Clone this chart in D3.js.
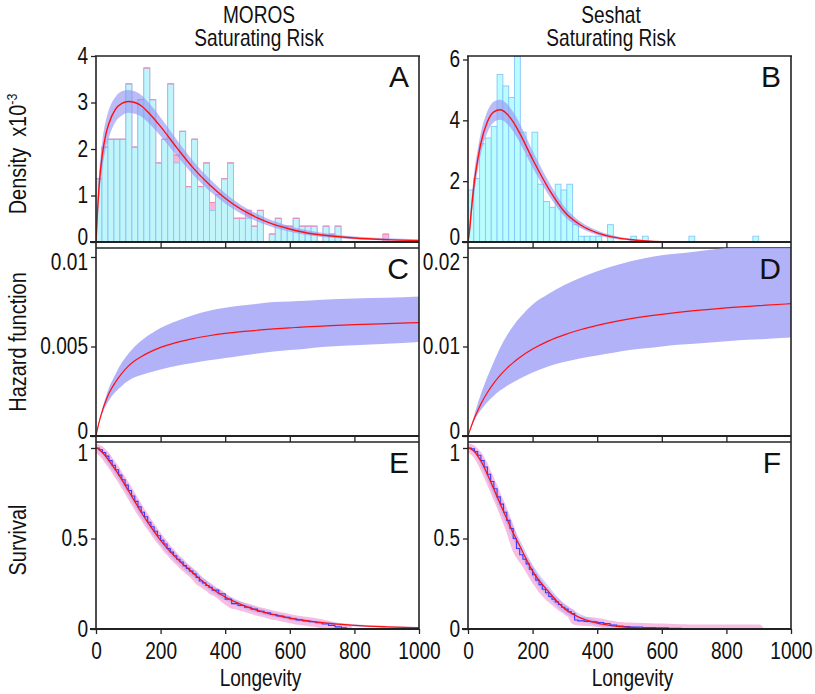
<!DOCTYPE html>
<html>
<head>
<meta charset="utf-8">
<script src="https://cdn.jsdelivr.net/npm/d3@7"></script>
<style>
  body { margin: 0; background: #fff; }
  text { font-family: "Liberation Sans", Arial, sans-serif; fill: #111; }
</style>
</head>
<body>
<svg id="chart" width="815" height="694"></svg>
<script>
// ---- data ----
// histograms: 50 bins over each data set's range, density in units of 1e-3
const morosBinWidth = 18.5;
const seshatBinWidth = 18;
const morosHist = [1.36, 2.04, 2.21, 2.21, 2.21, 3.40, 2.04, 3.06, 3.74, 3.06,
                   1.70, 2.21, 3.40, 1.70, 2.38, 1.19, 2.21, 1.19, 1.70, 0.68,
                   1.02, 1.36, 1.70, 0.51, 0.51, 0.51, 0.34, 0.68, 0.00, 0.17,
                   0.51, 0.34, 0.34, 0.51, 0.34, 0.34, 0.34, 0.00, 0.34, 0.17,
                   0.34, 0.00, 0.00, 0.00, 0.00, 0.00, 0.00, 0.00, 0.00, 0.00];
const morosHistPink = [1.36, 2.04, 2.21, 2.21, 2.21, 3.40, 2.04, 3.06, 3.74, 3.06,
                   1.70, 2.21, 3.40, 1.87, 2.38, 1.19, 2.21, 1.19, 1.70, 0.85,
                   1.02, 1.36, 1.70, 0.51, 0.51, 0.68, 0.34, 0.68, 0.00, 0.17,
                   0.51, 0.34, 0.34, 0.51, 0.34, 0.34, 0.34, 0.00, 0.34, 0.17,
                   0.34, 0.00, 0.00, 0.00, 0.00, 0.00, 0.00, 0.00, 0.17, 0.00];
const seshatHist = [1.71, 2.09, 3.23, 3.42, 3.80, 5.51, 5.13, 4.75, 6.10, 3.61,
                    2.85, 3.61, 1.90, 1.33, 1.14, 1.90, 1.71, 1.90, 0.57, 0.19,
                    0.19, 0.19, 0.19, 0.00, 0.57, 0.00, 0.00, 0.00, 0.19, 0.00,
                    0.19, 0.00, 0.00, 0.00, 0.00, 0.00, 0.00, 0.00, 0.19, 0.00,
                    0.00, 0.00, 0.00, 0.00, 0.00, 0.00, 0.00, 0.00, 0.00, 0.19];

// model curves sampled at these longevities
const gridT = [0, 5, 10, 20, 30, 40, 60, 80, 100, 120, 140, 160, 200, 250, 300,
               350, 400, 450, 500, 550, 600, 650, 700, 800, 900, 1000];

const morosDens   = [0, 0.70, 1.25, 1.90, 2.30, 2.55, 2.85, 2.98, 3.02, 3.00, 2.93, 2.80, 2.48, 2.03, 1.60,
                     1.24, 0.94, 0.70, 0.52, 0.38, 0.28, 0.20, 0.15, 0.085, 0.05, 0.03];
const morosDensHi = [0, 0.90, 1.50, 2.20, 2.60, 2.85, 3.12, 3.24, 3.27, 3.24, 3.16, 3.02, 2.68, 2.20, 1.75,
                     1.37, 1.05, 0.79, 0.60, 0.45, 0.34, 0.26, 0.20, 0.12, 0.08, 0.06];
const morosDensLo = [0, 0.50, 1.00, 1.60, 2.00, 2.25, 2.58, 2.72, 2.78, 2.76, 2.70, 2.58, 2.28, 1.86, 1.45,
                     1.11, 0.83, 0.61, 0.44, 0.31, 0.22, 0.15, 0.11, 0.06, 0.03, 0.015];

const seshatDens   = [0, 0.40, 1.00, 2.00, 2.70, 3.25, 3.95, 4.28, 4.35, 4.22, 3.95, 3.58, 2.72, 1.75, 0.98,
                      0.55, 0.30, 0.16, 0.08, 0.035, 0.01, 0.004, 0, 0, 0, 0];
const seshatDensHi = [0, 0.55, 1.30, 2.35, 3.05, 3.60, 4.30, 4.62, 4.68, 4.55, 4.27, 3.90, 3.00, 1.98, 1.14,
                      0.66, 0.38, 0.21, 0.11, 0.055, 0.02, 0.01, 0.003, 0, 0, 0];
const seshatDensLo = [0, 0.25, 0.75, 1.65, 2.35, 2.90, 3.60, 3.94, 4.02, 3.90, 3.63, 3.27, 2.45, 1.54, 0.83,
                      0.45, 0.23, 0.11, 0.05, 0.02, 0.005, 0, 0, 0, 0, 0];

const morosHaz   = [0, 0.00043, 0.0008, 0.00143, 0.00194, 0.00237, 0.0030, 0.0035, 0.0039, 0.0042, 0.00443, 0.00463,
                    0.00495, 0.00523, 0.00544, 0.0056, 0.00573, 0.00583, 0.00591, 0.00598, 0.00604, 0.0061, 0.00614,
                    0.00622, 0.00628, 0.00633];
const morosHazHi = [0, 0.00046, 0.00086, 0.00157, 0.00217, 0.00268, 0.00345, 0.0041, 0.0046, 0.0050, 0.00532, 0.0056,
                    0.00604, 0.00643, 0.00675, 0.0070, 0.00716, 0.00729, 0.00739, 0.00748, 0.00752, 0.00756, 0.00761,
                    0.00768, 0.00772, 0.00779];
const morosHazLo = [0, 0.0004, 0.00072, 0.00126, 0.00167, 0.00199, 0.00246, 0.0028, 0.00308, 0.00328, 0.00341, 0.00352,
                    0.00371, 0.00392, 0.00408, 0.00423, 0.00436, 0.00449, 0.00461, 0.00472, 0.0048, 0.00488, 0.00497,
                    0.00507, 0.00515, 0.00525];

const seshatHaz   = [0, 0.00055, 0.00106, 0.0020, 0.00283, 0.00358, 0.00486, 0.00591, 0.0068, 0.00756, 0.0082, 0.00877,
                     0.00971, 0.01063, 0.01133, 0.0119, 0.01236, 0.01275, 0.01308, 0.01336, 0.0136, 0.01381, 0.0140,
                     0.01432, 0.01457, 0.01478];
const seshatHazHi = [0, 0.0006, 0.0012, 0.0024, 0.0036, 0.0047, 0.0066, 0.0083, 0.0099, 0.0112, 0.0123, 0.0132,
                     0.0147, 0.0159, 0.0169, 0.0177, 0.0184, 0.0190, 0.0195, 0.0199, 0.0202, 0.0204, 0.0206,
                     0.0210, 0.0213, 0.0216];
const seshatHazLo = [0, 0.0005, 0.00095, 0.00175, 0.0024, 0.0029, 0.0038, 0.0045, 0.0051, 0.0056, 0.0060, 0.0064,
                     0.0071, 0.0078, 0.0083, 0.0087, 0.0090, 0.0093, 0.0096, 0.0098, 0.0100, 0.0102, 0.0103,
                     0.0106, 0.0108, 0.0110];

const morosSurv   = [1, 0.997, 0.99, 0.975, 0.955, 0.93, 0.88, 0.825, 0.765, 0.705, 0.645, 0.59, 0.49, 0.39, 0.31,
                     0.235, 0.177, 0.135, 0.103, 0.079, 0.06, 0.046, 0.035, 0.02, 0.012, 0.007];
const morosSurvHi = [1, 1, 1, 0.99, 0.975, 0.952, 0.903, 0.85, 0.79, 0.73, 0.67, 0.614, 0.513, 0.412, 0.331,
                     0.255, 0.195, 0.151, 0.117, 0.091, 0.071, 0.055, 0.043, 0.026, 0.017, 0.011];
const morosSurvLo = [1, 0.994, 0.98, 0.96, 0.935, 0.908, 0.857, 0.8, 0.74, 0.68, 0.62, 0.566, 0.467, 0.368, 0.289,
                     0.215, 0.159, 0.119, 0.089, 0.067, 0.049, 0.037, 0.027, 0.014, 0.007, 0.003];

const seshatSurv   = [1, 0.998, 0.994, 0.98, 0.957, 0.928, 0.855, 0.773, 0.69, 0.61, 0.53, 0.46, 0.32, 0.205, 0.11,
                      0.06, 0.032, 0.017, 0.009, 0.004, 0.002, 0.001, 0, 0, 0, 0];
const seshatSurvHi = [1, 1, 1, 0.99, 0.975, 0.952, 0.885, 0.805, 0.725, 0.645, 0.565, 0.495, 0.355, 0.235, 0.135,
                      0.08, 0.047, 0.028, 0.016, 0.008, 0.004, 0.002, 0.001, 0, 0, 0];
const seshatSurvLo = [1, 0.996, 0.988, 0.97, 0.94, 0.905, 0.825, 0.74, 0.655, 0.575, 0.495, 0.425, 0.285, 0.175, 0.088,
                      0.044, 0.02, 0.009, 0.004, 0.001, 0, 0, 0, 0, 0, 0];

// Kaplan-Meier steps [longevity, survival]
const morosKM = [[0, 1], [10, 0.99], [20, 0.975], [30, 0.955], [40, 0.93], [50, 0.905], [60, 0.88], [70, 0.85],
                 [80, 0.825], [90, 0.795], [100, 0.765], [110, 0.735], [120, 0.705], [130, 0.675], [140, 0.645],
                 [150, 0.62], [160, 0.59], [170, 0.565], [180, 0.54], [190, 0.515], [200, 0.49], [210, 0.47],
                 [220, 0.445], [230, 0.425], [240, 0.405], [250, 0.385], [260, 0.37], [270, 0.35], [280, 0.335],
                 [290, 0.32], [300, 0.305], [310, 0.285], [320, 0.265], [330, 0.255], [340, 0.24], [350, 0.23],
                 [360, 0.215], [380, 0.195], [400, 0.165], [420, 0.14], [440, 0.13], [460, 0.12], [480, 0.11],
                 [500, 0.098], [520, 0.09], [540, 0.08], [560, 0.072], [580, 0.065], [600, 0.057], [620, 0.05],
                 [640, 0.045], [660, 0.04], [680, 0.035], [700, 0.028], [720, 0.02], [740, 0.012], [760, 0.006],
                 [775, 0]];
const seshatKM = [[0, 1], [10, 0.995], [20, 0.98], [30, 0.96], [40, 0.93], [50, 0.895], [60, 0.855], [70, 0.815],
                  [80, 0.775], [90, 0.73], [100, 0.69], [110, 0.645], [120, 0.60], [130, 0.555], [140, 0.50],
                  [150, 0.445], [160, 0.41], [170, 0.385], [180, 0.36], [190, 0.33], [200, 0.30], [210, 0.27],
                  [220, 0.245], [230, 0.22], [240, 0.20], [250, 0.18], [260, 0.165], [270, 0.15], [280, 0.135],
                  [290, 0.12], [300, 0.11], [310, 0.095], [320, 0.085], [330, 0.05], [340, 0.045], [360, 0.042],
                  [380, 0.04], [400, 0.036], [420, 0.03], [440, 0.022], [460, 0.016], [480, 0.013], [500, 0.011],
                  [540, 0.008], [580, 0.006], [620, 0.004], [660, 0.002], [697, 0]];
const morosKMBandEnd = 780;
const seshatKMBandEnd = 900;

const xTicks = [0, 200, 400, 600, 800, 1000];

// ---- layout ----
const svg = d3.select('#chart');
const cols = [{x0: 96, x1: 419}, {x0: 468, x1: 791}];
const rows = [{top: 56, zero: 242, bottom: 248},
              {top: 248, zero: 436, bottom: 442},
              {top: 442, zero: 629, bottom: 629}];
const squeeze = 0.83;   // the figure's type is narrow

const cyanStroke = '#86c6fb';
const bandFill = 'rgba(150,150,245,0.65)';
const red = '#ff1010';

// narrow a text horizontally round its own anchor point
function condense(sel, sx) {
    sel.each(function() {
        const t = d3.select(this);
        const x = +t.attr('x') || 0, y = +t.attr('y') || 0;
        t.attr('transform', `translate(${x},${y}) scale(${sx},1) translate(${-x},${-y})`);
    });
}

function panel(col, row, yDomain, yRangeTop, yTicks, letter, id) {
    const c = cols[col], r = rows[row];
    const x = d3.scaleLinear().domain([0, 1000]).range([c.x0, c.x1]);
    const y = d3.scaleLinear().domain(yDomain).range([r.zero, yRangeTop]);
    const g = svg.append('g');
    svg.append('clipPath').attr('id', id)
        .append('rect').attr('x', c.x0).attr('y', r.top).attr('width', c.x1 - c.x0).attr('height', r.zero - r.top);
    const plot = g.append('g').attr('clip-path', `url(#${id})`);
    const frame = g.append('g');
    return {x, y, c, r, plot, frame, draw() {
        // y axis, the end labels pulled away from the neighbouring panels
        const top = yTicks[yTicks.length - 1];
        frame.append('g')
            .attr('transform', `translate(${c.x0},0)`)
            .call(d3.axisLeft(y).tickValues(yTicks).tickSize(5).tickPadding(3).tickFormat(d => String(d)))
            .call(a => a.select('.domain').remove())
            .call(a => a.selectAll('line').attr('stroke', '#222').attr('stroke-width', 1.3))
            .call(a => a.selectAll('text').style('font-size', '23px').attr('fill', '#111')
                .attr('y', d => (d === 0 && row < 2 ? -5 : (d === top && row > 0 ? 5 : 0)))
                .call(condense, squeeze));
        const ln = (x1, y1, x2, y2, w) => frame.append('line')
            .attr('x1', x1).attr('y1', y1).attr('x2', x2).attr('y2', y2)
            .attr('stroke', '#222').attr('stroke-width', w);
        ln(c.x0, r.top, c.x0, r.bottom, 1.6);
        ln(c.x1, r.top, c.x1, r.bottom, 1.6);
        if (row === 0) ln(c.x0 - 1, r.top, c.x1 + 1, r.top, 1.6);
        ln(c.x0 - 6, r.zero, c.x1, r.zero, 2.2);
        if (row < 2) {
            ln(c.x0, r.bottom, c.x1, r.bottom, 1.6);
            frame.append('g')
                .attr('transform', `translate(0,${r.zero})`)
                .call(d3.axisBottom(x).tickValues(xTicks.slice(1, -1)).tickSize(r.bottom - r.zero).tickFormat(''))
                .call(a => a.select('.domain').remove())
                .call(a => a.selectAll('line').attr('stroke', '#222').attr('stroke-width', 1.3));
        } else {
            frame.append('g')
                .attr('transform', `translate(0,${r.zero})`)
                .call(d3.axisBottom(x).tickValues(xTicks).tickSize(5).tickPadding(9).tickFormat(d => String(d)))
                .call(a => a.select('.domain').remove())
                .call(a => a.selectAll('line').attr('stroke', '#222').attr('stroke-width', 1.3))
                .call(a => a.selectAll('text').style('font-size', '23px').attr('fill', '#111')
                    .call(condense, squeeze));
            frame.append('text')
                .attr('x', (c.x0 + c.x1) / 2 + 3).attr('y', 686)
                .attr('text-anchor', 'middle').style('font-size', '23px')
                .text('Longevity')
                .call(condense, squeeze);
        }
        frame.append('text')
            .attr('x', c.x1 - 10).attr('y', r.top + 31)
            .attr('text-anchor', 'end').style('font-size', '30px')
            .text(letter);
    }};
}

function binsOf(vals, w) {
    return vals.map((v, i) => ({lo: i * w, hi: (i + 1) * w, v})).filter(d => d.v > 0);
}

function histogram(p, vals, w, fill, stroke) {
    p.plot.append('g').selectAll('rect')
        .data(binsOf(vals, w))
        .join('rect')
        .attr('x', d => p.x(d.lo))
        .attr('width', d => p.x(d.hi) - p.x(d.lo))
        .attr('y', d => p.y(d.v))
        .attr('height', d => p.y(0) - p.y(d.v))
        .attr('fill', fill)
        .attr('stroke', stroke)
        .attr('stroke-width', 0.9);
}

// pink tops showing through the cyan bars
function histTops(p, vals, w, stroke) {
    p.plot.append('g').selectAll('line')
        .data(binsOf(vals, w))
        .join('line')
        .attr('x1', d => p.x(d.lo)).attr('x2', d => p.x(d.hi))
        .attr('y1', d => p.y(d.v)).attr('y2', d => p.y(d.v))
        .attr('stroke', stroke).attr('stroke-width', 1.1);
}

function band(p, lo, hi, fill) {
    const area = d3.area()
        .x((d, i) => p.x(gridT[i]))
        .y0((d, i) => p.y(lo[i]))
        .y1((d, i) => p.y(hi[i]))
        .curve(d3.curveMonotoneX);
    p.plot.append('path').datum(lo).attr('d', area).attr('fill', fill);
}

function curve(p, vals, color, w) {
    const line = d3.line()
        .x((d, i) => p.x(gridT[i]))
        .y(d => p.y(d))
        .curve(d3.curveMonotoneX);
    p.plot.append('path').datum(vals).attr('d', line)
        .attr('fill', 'none').attr('stroke', color).attr('stroke-width', w);
}

function kmLine(p, steps, color, w) {
    const line = d3.line()
        .x(d => p.x(d[0])).y(d => p.y(d[1]))
        .curve(d3.curveStepAfter);
    p.plot.append('path').datum(steps).attr('d', line)
        .attr('fill', 'none').attr('stroke', color).attr('stroke-width', w);
}

// confidence band of the Kaplan-Meier estimate, drawn as a soft wide trace
function kmBand(p, steps, endT) {
    const line = d3.line()
        .x(d => p.x(d[0])).y(d => p.y(d[1]))
        .curve(d3.curveMonotoneX);
    p.plot.append('path').datum(steps.concat([[endT, 0]])).attr('d', line)
        .attr('fill', 'none').attr('stroke', '#f7b2dd').attr('stroke-width', 9)
        .attr('stroke-linejoin', 'round').attr('stroke-linecap', 'round').attr('stroke-opacity', 0.85);
}

// A
const pA = panel(0, 0, [0, 4], 56, [0, 1, 2, 3, 4], 'A', 'cA');
histogram(pA, morosHistPink, morosBinWidth, 'rgba(245,160,200,0.75)', '#f090c0');
histogram(pA, morosHist, morosBinWidth, 'rgba(185,253,255,0.88)', cyanStroke);
histTops(pA, morosHistPink, morosBinWidth, '#f08cbe');
band(pA, morosDensLo, morosDensHi, bandFill);
curve(pA, morosDens, red, 1.4);
pA.draw();

// B
const pB = panel(1, 0, [0, 6], 59.5, [0, 2, 4, 6], 'B', 'cB');
histogram(pB, seshatHist, seshatBinWidth, '#b9fdff', cyanStroke);
band(pB, seshatDensLo, seshatDensHi, bandFill);
curve(pB, seshatDens, red, 1.4);
pB.draw();

// C
const pC = panel(0, 1, [0, 0.01], 257, [0, 0.005, 0.01], 'C', 'cC');
band(pC, morosHazLo, morosHazHi, 'rgba(170,170,248,0.9)');
curve(pC, morosHaz, red, 1.2);
pC.draw();

// D
const pD = panel(1, 1, [0, 0.02], 257, [0, 0.01, 0.02], 'D', 'cD');
band(pD, seshatHazLo, seshatHazHi, 'rgba(170,170,248,0.9)');
curve(pD, seshatHaz, red, 1.2);
pD.draw();

// E
const pE = panel(0, 2, [0, 1], 448, [0, 0.5, 1], 'E', 'cE');
kmBand(pE, morosKM, morosKMBandEnd);
band(pE, morosSurvLo, morosSurvHi, 'rgba(170,170,248,0.55)');
kmLine(pE, morosKM, '#3a3cff', 1.1);
curve(pE, morosSurv, red, 1.3);
pE.draw();

// F
const pF = panel(1, 2, [0, 1], 448, [0, 0.5, 1], 'F', 'cF');
kmBand(pF, seshatKM, seshatKMBandEnd);
band(pF, seshatSurvLo, seshatSurvHi, 'rgba(170,170,248,0.55)');
kmLine(pF, seshatKM, '#3a3cff', 1.1);
curve(pF, seshatSurv, red, 1.3);
pF.draw();

// titles
[[259, 'MOROS'], [611, 'Seshat']].forEach(([cx, name]) => {
    svg.append('text').attr('x', cx).attr('y', 23).attr('text-anchor', 'middle')
        .style('font-size', '23px').text(name).call(condense, squeeze);
    svg.append('text').attr('x', cx).attr('y', 46).attr('text-anchor', 'middle')
        .style('font-size', '23px').text('Saturating Risk').call(condense, squeeze);
});

// y labels
const dl = svg.append('text').attr('transform', `translate(26,154) rotate(-90) scale(${squeeze},1)`)
    .attr('text-anchor', 'middle').style('font-size', '24px');
dl.append('tspan').text('Density\u00a0\u00a0x10');
dl.append('tspan').attr('dy', -9).style('font-size', '15px').text('-3');
svg.append('text').attr('transform', `translate(26,342) rotate(-90) scale(${squeeze},1)`)
    .attr('text-anchor', 'middle').style('font-size', '24px').text('Hazard function');
svg.append('text').attr('transform', `translate(26,540) rotate(-90) scale(${squeeze},1)`)
    .attr('text-anchor', 'middle').style('font-size', '24px').text('Survival');
</script>
</body>
</html>
